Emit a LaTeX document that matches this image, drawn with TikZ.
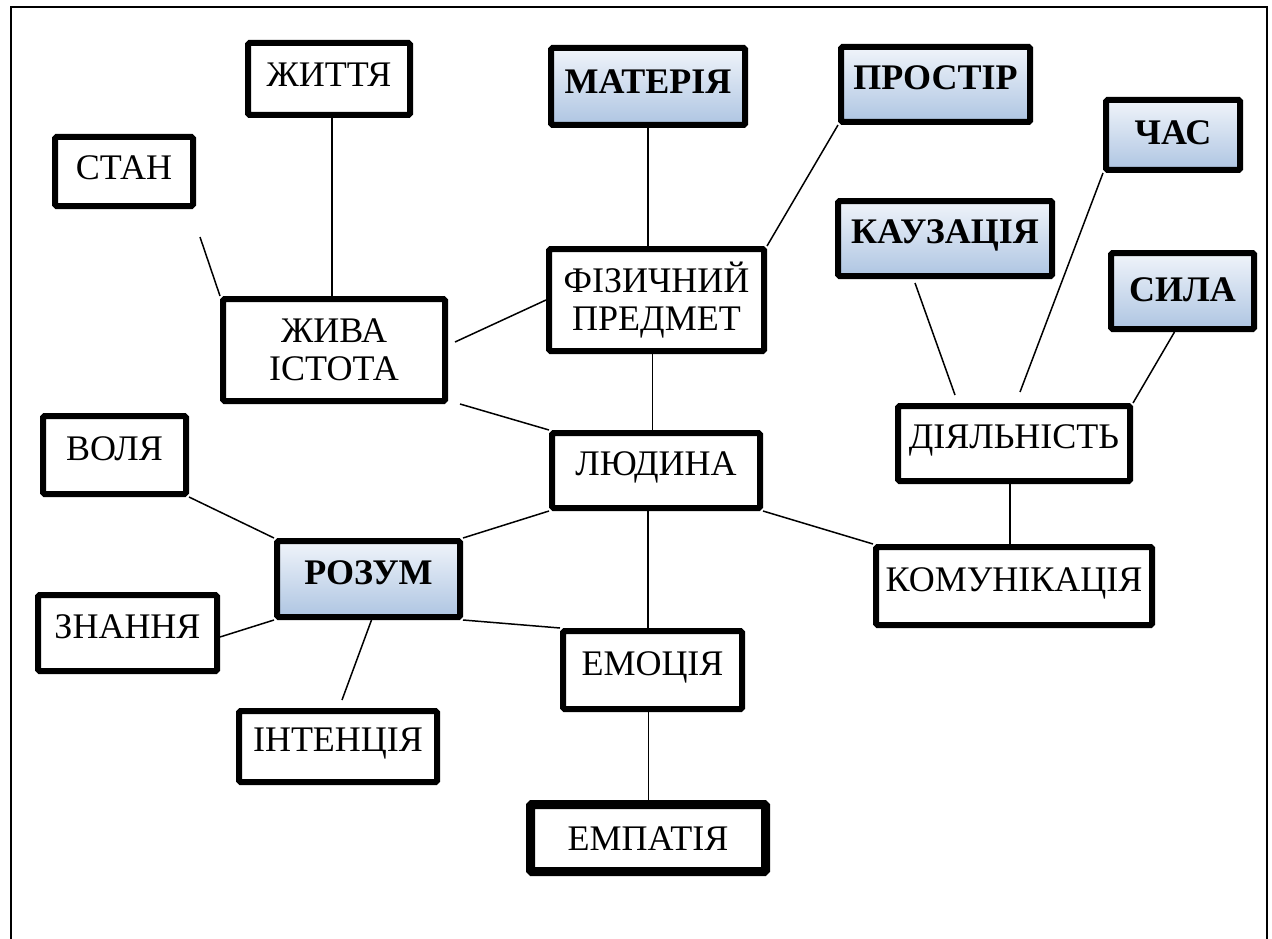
\documentclass[tikz,border=0pt]{standalone}
\usepackage{fontspec}
\setmainfont{Liberation Serif}
\usepackage{tikz}
\usetikzlibrary{positioning}
\definecolor{shadetop}{RGB}{240,244,250}
\definecolor{shadebot}{RGB}{174,197,226}
\tikzset{
  box/.style={draw, line width=6pt, rounded corners=1.5pt, inner sep=0pt, align=center, font=\fontsize{36}{38}\selectfont},
  word/.style={box, text height=24pt, text depth=14pt},
  key/.style={word, font=\fontsize{36}{38}\selectfont\bfseries, top color=shadetop, bottom color=shadebot},
  link/.style={line width=1.5pt}
}
\begin{document}
\begin{tikzpicture}[x=1pt,y=-1pt]
    \useasboundingbox (0,0) rectangle (1272,939);
    \draw[line width=2pt] (11,939) -- (11,7) -- (1267,7) -- (1267,939);

    \node[word, text depth=8pt, minimum width=162pt, minimum height=72pt] (zhyttya) at (329,79) {ЖИТТЯ};
    \node[key, text depth=10pt, minimum width=194pt, minimum height=77pt] (materia) at (648,86.5) {МАТЕРІЯ};
    \node[key, minimum width=189pt, minimum height=75pt] (prostir) at (935.5,84.5) {ПРОСТІР};
    \node[key, text depth=4pt, minimum width=134pt, minimum height=70pt] (chas) at (1173,135) {ЧАС};
    \node[word, text depth=8pt, minimum width=138pt, minimum height=69pt] (stan) at (124,171.5) {СТАН};
    \node[key, minimum width=214pt, minimum height=75pt] (kauz) at (945,238.5) {КАУЗАЦІЯ};
    \node[key, text depth=4pt, minimum width=143pt, minimum height=76pt] (sila) at (1182.5,291) {СИЛА};
    \node[box, minimum width=215pt, minimum height=102pt] (fiz) at (656.5,300) {ФІЗИЧНИЙ\\ПРЕДМЕТ};
    \node[box, minimum width=222pt, minimum height=102pt] (zhyva) at (334,350) {ЖИВА\\ІСТОТА};
    \node[word, minimum width=232pt, minimum height=75pt] (diyal) at (1014,443.5) {ДІЯЛЬНІСТЬ};
    \node[word, minimum width=208pt, minimum height=75pt] (ljud) at (656,470.5) {ЛЮДИНА};
    \node[word, minimum width=143pt, minimum height=78pt] (volya) at (114.5,455) {ВОЛЯ};
    \node[key, minimum width=183pt, minimum height=76pt] (rozum) at (368.5,579) {РОЗУМ};
    \node[word, minimum width=179pt, minimum height=76pt] (znannya) at (127.5,633) {ЗНАННЯ};
    \node[word, minimum width=198pt, minimum height=71pt] (intent) at (338,746.5) {ІНТЕНЦІЯ};
    \node[word, minimum width=276pt, minimum height=78pt] (komun) at (1014,586) {КОМУНІКАЦІЯ};
    \node[word, minimum width=179pt, minimum height=78pt] (emots) at (652.5,670) {ЕМОЦІЯ};
    \node[word, line width=9pt, text depth=0pt, minimum width=235pt, minimum height=67pt] (empat) at (648,838) {ЕМПАТІЯ};

    \draw[link] ([xshift=3pt]zhyttya.south) -- ([xshift=-2pt]zhyva.north);
    \draw[link] ([shift={(4pt,-28pt)}]stan.south east) -- (zhyva.north west);
    \draw[link] (materia.south) -- (materia.south |- fiz.north);
    \draw[link] (prostir.south west) -- (fiz.north east);
    \draw[link] (fiz.west) -- ([shift={(7pt,8pt)}]zhyva.east);
    \draw[link] ([xshift=12pt]zhyva.south east) -- (ljud.north west);
    \draw[link] ([xshift=-4pt]fiz.south) -- ([xshift=-4pt]fiz.south |- ljud.north);
    \draw[link] ([xshift=-8pt]ljud.south) -- ([xshift=-8pt]ljud.south |- emots.north);
    \draw[link] (ljud.south west) -- (rozum.north east);
    \draw[link] (ljud.south east) -- (komun.north west);
    \draw[link] ([xshift=-4pt]diyal.south) -- ([xshift=-4pt]diyal.south |- komun.north);
    \draw[link] ([shift={(-30pt,-4pt)}]kauz.south) -- ([shift={(-59pt,8pt)}]diyal.north);
    \draw[link] (chas.south west) -- ([shift={(6pt,11pt)}]diyal.north);
    \draw[link] ([xshift=-8pt]sila.south) -- (diyal.north east);
    \draw[link] (volya.south east) -- (rozum.north west);
    \draw[link] ([yshift=-4pt]znannya.east) -- (rozum.south west);
    \draw[link] ([xshift=3pt]rozum.south) -- ([shift={(4pt,8pt)}]intent.north);
    \draw[link] (rozum.south east) -- (emots.north west);
    \draw[link] ([xshift=-4pt]emots.south) -- ([xshift=-4pt]emots.south |- empat.north);
\end{tikzpicture}
\end{document}
